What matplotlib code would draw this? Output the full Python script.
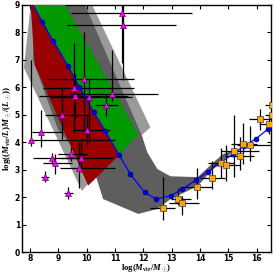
import numpy as np
import matplotlib
matplotlib.use("Agg")
import matplotlib.pyplot as plt

plt.rcParams['mathtext.fontset'] = 'custom'
plt.rcParams['mathtext.rm'] = 'Liberation Serif:bold'
plt.rcParams['mathtext.it'] = 'Liberation Serif:italic:bold'
plt.rcParams['mathtext.bf'] = 'Liberation Serif:bold'

# model curve (blue)
model_x = [8.03, 8.43, 8.82, 9.35, 9.74, 10.24, 10.65, 11.15, 11.54, 12.05, 12.46,
           12.96, 13.37, 13.87, 14.28, 14.73, 15.15, 15.55, 15.97, 16.39, 16.80]
model_y = [9.13, 8.39, 7.67, 6.76, 6.01, 5.11, 4.41, 3.53, 2.84, 2.17, 1.93,
           2.05, 2.29, 2.63, 2.92, 3.26, 3.56, 3.85, 4.12, 4.47, 4.78]

# shaded regions (outer corners, data units)
light_x = [8.02, 10.19, 12.25, 10.19, 9.83, 7.78]
light_y = [9.0, 9.0, 4.54, 2.66, 2.22, 6.71]

dark_x = [8.13, 8.10, 8.98, 10.30, 10.58, 11.82, 12.50, 12.96, 13.92, 14.45, 15.26,
          14.80, 14.48, 13.92, 12.96, 12.50, 12.14, 11.96, 9.94]
dark_y = [9.0, 7.0, 4.47, 2.84, 1.93, 1.39, 1.57, 1.93, 2.40, 3.02, 3.74,
          3.56, 3.27, 2.73, 2.76, 3.02, 3.63, 4.21, 9.0]

red_x = [8.01, 8.16, 10.05]
red_y = [9.13, 6.82, 2.42]
green_x = [11.82, 9.16]
green_y = [4.29, 9.13]
n_split = 7  # model points shared with red / green edge

# dwarf galaxies (magenta triangles)
dw_x = [11.24, 11.28, 9.92, 9.55, 9.58, 10.08, 10.89, 10.68, 9.14, 10.02,
        8.40, 8.02, 9.44, 9.80, 8.76, 8.89, 9.73, 8.52, 9.35]
dw_y = [8.70, 8.27, 6.32, 5.98, 5.67, 5.64, 5.76, 5.34, 5.01, 4.43,
        4.37, 4.08, 3.56, 3.41, 3.41, 3.26, 3.05, 2.75, 2.15]
dw_xlo = [9.45, 9.29, 8.64, 8.45, 8.31, 8.70, 9.40, 10.30, 8.52, 9.52,
          8.06, 7.95, 8.98, 9.05, 8.10, 8.45, 9.05, 8.40, 9.20]
dw_xhi = [13.73, 13.16, 11.66, 11.66, 11.47, 11.60, 12.50, 11.10, 10.12, 10.83,
          9.16, 11.00, 10.02, 10.94, 9.87, 9.48, 11.00, 8.66, 9.52]
dw_ylo = [6.89, 6.28, 4.40, 4.35, 4.90, 4.00, 5.50, 4.95, 4.10, 3.90,
          3.82, 3.85, 3.31, 2.90, 3.20, 2.84, 2.33, 2.55, 1.93]
dw_yhi = [9.50, 9.50, 8.02, 7.60, 6.50, 6.30, 7.37, 5.75, 5.99, 4.95,
          5.19, 7.00, 3.82, 4.00, 3.60, 3.56, 4.00, 2.95, 2.37]

# clusters (orange squares)
cl_x = [12.68, 13.23, 13.38, 13.90, 14.42, 14.73, 14.93, 15.20, 15.42, 15.52,
        15.77, 16.13, 16.45, 16.54, 16.54]
cl_y = [1.61, 1.93, 1.78, 2.36, 2.68, 3.24, 3.17, 3.68, 3.50, 3.92,
        3.89, 4.83, 4.67, 5.37, 5.01]
cl_xlo = [12.25, 12.96, 12.89, 13.37, 14.00, 14.30, 14.50, 14.73, 14.90, 15.10,
          15.30, 15.75, 16.10, 16.30, 16.30]
cl_xhi = [13.13, 13.67, 13.95, 14.44, 14.90, 15.20, 15.40, 16.08, 15.90, 16.00,
          16.60, 16.60, 16.80, 16.80, 16.80]
cl_ylo = [1.18, 1.71, 1.35, 1.93, 2.30, 2.70, 2.60, 2.75, 3.00, 3.20,
          3.30, 4.45, 4.30, 5.10, 4.80]
cl_yhi = [2.75, 2.33, 2.05, 3.05, 3.30, 3.80, 3.90, 5.00, 4.20, 4.70,
          4.60, 5.20, 5.00, 5.60, 5.20]


fig = plt.figure(figsize=(2.74, 2.74), dpi=100)
ax = fig.add_axes([0.079, 0.08, 0.909, 0.902])

ax.fill(light_x, light_y, color='#9a9a9a', lw=0, zorder=1)
ax.fill(dark_x, dark_y, color='#5e5e5e', lw=0, zorder=2)

mx = np.array(model_x)
my = np.array(model_y)
ax.fill(list(red_x) + list(mx[n_split::-1]), list(red_y) + list(my[n_split::-1]),
        color='#990000', lw=0, zorder=3)
ax.fill(list(mx[:n_split + 1]) + green_x, list(my[:n_split + 1]) + green_y,
        color='#009900', lw=0, zorder=3)

dx = np.array(dw_x)
dy = np.array(dw_y)
ax.errorbar(dx, dy,
            xerr=[dx - np.array(dw_xlo), np.array(dw_xhi) - dx],
            yerr=[dy - np.array(dw_ylo), np.array(dw_yhi) - dy],
            fmt='none', ecolor='black', elinewidth=0.9, capsize=0, zorder=4)

cx = np.array(cl_x)
cy = np.array(cl_y)
ax.errorbar(cx, cy,
            xerr=[cx - np.array(cl_xlo), np.array(cl_xhi) - cx],
            yerr=[cy - np.array(cl_ylo), np.array(cl_yhi) - cy],
            fmt='none', ecolor='black', elinewidth=0.9, capsize=0, zorder=4)

ax.plot(mx, my, '-o', color='blue', lw=0.9, ms=3, mec='#0000aa', zorder=5)

ax.plot(dx, dy, '^', ms=4.5, mfc='magenta', mec='#770077', mew=0.5, zorder=6)
ax.plot(cx, cy, 's', ms=4.3, mfc='orange', mec='#444444', mew=0.5, zorder=6)

ax.set_xlim(7.7, 16.5)
ax.set_ylim(0, 9)
ax.set_xticks(range(8, 17))
ax.set_yticks(range(0, 10))
ax.tick_params(direction='in', top=True, right=True, length=3, width=0.8,
               labelsize=5.5, pad=1.2)
for lab in ax.get_xticklabels() + ax.get_yticklabels():
    lab.set_fontweight('bold')
for sp in ax.spines.values():
    sp.set_linewidth(1.0)

ax.set_xlabel(r'$\mathrm{log}(M_{\mathrm{vir}}/M_\odot)$', fontsize=6.2, labelpad=-0.5)
ax.set_ylabel(r'$\mathrm{log}((M_{\mathrm{vir}}/L)M_\odot/(L_\odot))$', fontsize=6.5, labelpad=1)

fig.savefig('out.png', dpi=100)
